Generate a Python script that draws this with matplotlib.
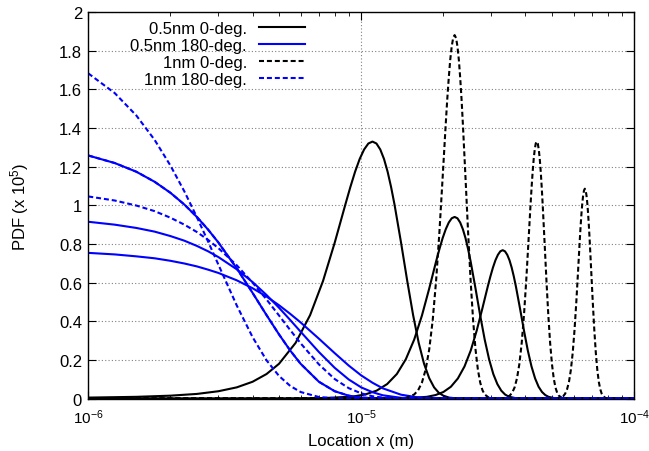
import matplotlib
matplotlib.use("Agg")
import matplotlib.pyplot as plt
from matplotlib.ticker import FuncFormatter, LogLocator, MultipleLocator

plt.rcParams["font.family"] = ["Liberation Sans", "DejaVu Sans"]
plt.rcParams["mathtext.default"] = "regular"

# x in micrometres, PDF in units of 1e5
BLUE_X = [1, 1.25, 1.5, 1.75, 2, 2.25, 2.5, 2.75, 3, 3.5, 4, 4.5, 5, 5.5, 6,
          7, 8, 9, 10, 11, 12, 14, 16, 18, 20, 25, 100]

BLUE_SOLID = [
    [1.258, 1.219, 1.174, 1.122, 1.065, 1.004, 0.940, 0.874, 0.807, 0.674, 0.547,
     0.432, 0.332, 0.248, 0.180, 0.087, 0.038, 0.015, 0.005, 0.002, 0, 0, 0, 0, 0, 0, 0],
    [0.915, 0.900, 0.883, 0.864, 0.841, 0.817, 0.790, 0.762, 0.732, 0.669, 0.603,
     0.536, 0.470, 0.406, 0.346, 0.241, 0.159, 0.099, 0.058, 0.033, 0.017, 0.004,
     0.001, 0, 0, 0, 0],
    [0.754, 0.746, 0.736, 0.726, 0.713, 0.699, 0.684, 0.667, 0.650, 0.612, 0.571,
     0.528, 0.483, 0.438, 0.394, 0.310, 0.235, 0.171, 0.120, 0.082, 0.053, 0.020,
     0.007, 0.002, 0, 0, 0],
]

BLUE_DASHED = [
    [1.683, 1.581, 1.465, 1.339, 1.206, 1.072, 0.939, 0.812, 0.692, 0.482, 0.318,
     0.198, 0.117, 0.065, 0.034, 0.008, 0.002, 0, 0, 0, 0, 0, 0, 0, 0, 0, 0],
    [1.258, 1.219, 1.174, 1.122, 1.065, 1.004, 0.940, 0.874, 0.807, 0.674, 0.547,
     0.432, 0.332, 0.248, 0.180, 0.087, 0.038, 0.015, 0.005, 0.002, 0, 0, 0, 0, 0, 0, 0],
    [1.046, 1.025, 0.999, 0.970, 0.936, 0.900, 0.862, 0.821, 0.778, 0.690, 0.600,
     0.513, 0.430, 0.354, 0.286, 0.177, 0.101, 0.054, 0.027, 0.012, 0.005, 0.001,
     0, 0, 0, 0, 0],
]

BLACK_SOLID_X = [
    [1, 1.5, 2, 2.5, 3, 3.5, 4, 4.5, 5, 5.75, 6.5, 7.25, 8, 8.75, 9.125, 9.5,
     9.875, 10.25, 10.625, 11, 11.375, 11.75, 12.125, 12.5, 12.875, 13.25, 14,
     14.75, 15.5, 16.25, 17, 17.75, 18.5, 19.25, 20, 21, 22, 24, 100],
    [1, 5.03, 7.15, 9.27, 10.33, 11.39, 12.45, 13.51, 14.57, 15.64, 16.70, 17.76,
     18.82, 19.35, 19.88, 20.41, 20.94, 21.47, 22, 22.53, 23.06, 23.59, 24.12,
     24.65, 25.18, 26.24, 27.30, 28.36, 29.43, 30.49, 31.55, 32.61, 33.67, 34.73,
     36.85, 38.97, 100],
    [1, 12.22, 14.81, 17.41, 18.71, 20.01, 21.31, 22.61, 23.91, 25.21, 26.51,
     27.80, 29.10, 29.75, 30.40, 31.05, 31.70, 32.35, 33, 33.65, 34.30, 34.95,
     35.60, 36.25, 36.90, 38.20, 39.50, 40.79, 42.09, 43.39, 44.69, 45.99, 47.29,
     48.59, 51.19, 53.78, 100],
]
BLACK_SOLID_Y = [
    [0.005, 0.009, 0.015, 0.024, 0.038, 0.058, 0.087, 0.127, 0.180, 0.288, 0.432,
     0.609, 0.807, 1.004, 1.094, 1.174, 1.240, 1.289, 1.320, 1.330, 1.320, 1.289,
     1.240, 1.174, 1.094, 1.004, 0.807, 0.609, 0.432, 0.288, 0.180, 0.106, 0.058,
     0.030, 0.015, 0.005, 0.002, 0, 0],
    [0, 0, 0.002, 0.010, 0.021, 0.041, 0.075, 0.127, 0.203, 0.305, 0.430, 0.570,
     0.710, 0.773, 0.830, 0.876, 0.911, 0.933, 0.940, 0.933, 0.911, 0.876, 0.830,
     0.773, 0.710, 0.570, 0.430, 0.305, 0.203, 0.127, 0.075, 0.041, 0.021, 0.010,
     0.002, 0, 0],
    [0, 0, 0.002, 0.009, 0.018, 0.034, 0.061, 0.104, 0.166, 0.249, 0.352, 0.466,
     0.580, 0.632, 0.678, 0.716, 0.744, 0.762, 0.768, 0.762, 0.744, 0.716, 0.678,
     0.632, 0.580, 0.466, 0.352, 0.249, 0.166, 0.104, 0.061, 0.034, 0.018, 0.009,
     0.002, 0, 0],
]

BLACK_DASHED_X = [
    [1, 13.52, 14.58, 15.64, 16.17, 16.70, 17.23, 17.76, 18.29, 18.82, 19.35,
     19.88, 20.41, 20.67, 20.94, 21.20, 21.47, 21.73, 22, 22.27, 22.53, 22.80,
     23.06, 23.33, 23.59, 24.12, 24.65, 25.18, 25.71, 26.24, 26.77, 27.30, 27.83,
     28.36, 29.42, 30.48, 100],
    [1, 32, 33.5, 35, 35.75, 36.5, 37.25, 38, 38.75, 39.5, 40.25, 41, 41.75,
     42.125, 42.5, 42.875, 43.25, 43.625, 44, 44.375, 44.75, 45.125, 45.5, 45.875,
     46.25, 47, 47.75, 48.5, 49.25, 50, 50.75, 51.5, 52.25, 53, 54.5, 56, 100],
    [1, 51.30, 53.14, 54.98, 55.90, 56.81, 57.73, 58.65, 59.57, 60.49, 61.41,
     62.33, 63.24, 63.70, 64.16, 64.62, 65.08, 65.54, 66, 66.46, 66.92, 67.38,
     67.84, 68.30, 68.76, 69.67, 70.59, 71.51, 72.43, 73.35, 74.27, 75.19, 76.10,
     77.02, 78.86, 80.70, 100],
]
BLACK_DASHED_Y = [
    [0, 0.001, 0.004, 0.021, 0.043, 0.083, 0.150, 0.255, 0.407, 0.611, 0.861,
     1.141, 1.420, 1.547, 1.660, 1.753, 1.823, 1.866, 1.881, 1.866, 1.823, 1.753,
     1.660, 1.547, 1.420, 1.141, 0.861, 0.611, 0.407, 0.255, 0.150, 0.083, 0.043,
     0.021, 0.004, 0.001, 0],
    [0, 0, 0.003, 0.015, 0.030, 0.058, 0.106, 0.180, 0.288, 0.432, 0.609, 0.807,
     1.004, 1.094, 1.174, 1.240, 1.289, 1.320, 1.330, 1.320, 1.289, 1.240, 1.174,
     1.094, 1.004, 0.807, 0.609, 0.432, 0.288, 0.180, 0.106, 0.058, 0.030, 0.015,
     0.003, 0, 0],
    [0, 0, 0.002, 0.012, 0.025, 0.048, 0.086, 0.147, 0.235, 0.353, 0.497, 0.658,
     0.819, 0.893, 0.958, 1.012, 1.052, 1.077, 1.086, 1.077, 1.052, 1.012, 0.958,
     0.893, 0.819, 0.658, 0.497, 0.353, 0.235, 0.147, 0.086, 0.048, 0.025, 0.012,
     0.002, 0, 0],
]

LABELS = ["0.5nm 0-deg.", "0.5nm 180-deg.", "1nm 0-deg.", "1nm 180-deg."]

UM = 1e-6
BLUE = "#0000ff"
DASH = (2.4, 1.4)
LW = 1.5
FS = 12

fig = plt.figure(figsize=(6.49, 4.52), dpi=100)
ax = fig.add_axes([0.136, 0.116, 0.841, 0.855])

for i, (xs, ys) in enumerate(zip(BLACK_SOLID_X, BLACK_SOLID_Y)):
    ax.plot([x * UM for x in xs], ys, color="black", lw=LW,
            label=LABELS[0] if i == 0 else None)
for i, ys in enumerate(BLUE_SOLID):
    ax.plot([x * UM for x in BLUE_X], ys, color=BLUE, lw=LW,
            label=LABELS[1] if i == 0 else None)
for i, (xs, ys) in enumerate(zip(BLACK_DASHED_X, BLACK_DASHED_Y)):
    ax.plot([x * UM for x in xs], ys, color="black", lw=LW, dashes=DASH,
            label=LABELS[2] if i == 0 else None)
for i, ys in enumerate(BLUE_DASHED):
    ax.plot([x * UM for x in BLUE_X], ys, color=BLUE, lw=LW, dashes=DASH,
            label=LABELS[3] if i == 0 else None)

ax.set_xscale("log")
ax.set_xlim(1e-6, 1e-4)
ax.set_ylim(0, 2)
ax.yaxis.set_major_locator(MultipleLocator(0.2))
ax.yaxis.set_major_formatter(FuncFormatter(lambda v, p: "%g" % round(v, 1)))
ax.xaxis.set_minor_locator(LogLocator(base=10, subs=range(2, 10)))

ax.grid(True, which="major", color="#808080", linestyle=(0, (1, 2)), linewidth=0.8)
ax.tick_params(which="both", direction="in", top=True, right=True)
ax.tick_params(which="major", length=6)
ax.tick_params(axis="x", which="major", pad=6, labelsize=11)
ax.tick_params(axis="y", which="major", pad=4.5, labelsize=FS)
ax.tick_params(which="minor", length=3)
for s in ax.spines.values():
    s.set_linewidth(1.0)

ax.set_xlabel("Location x (m)", fontsize=FS)
ax.set_ylabel("PDF (x 10$^5$)", fontsize=FS)
ax.xaxis.set_label_coords(0.5, -0.088)
ax.yaxis.set_label_coords(-0.105, 0.5)

ax.legend(loc="upper right", bbox_to_anchor=(0.419, 1.008), frameon=False,
          markerfirst=False, fontsize=FS, handlelength=2.8, handletextpad=0.7,
          labelspacing=0.125, borderaxespad=0.3)

fig.savefig("out.png", dpi=100)
